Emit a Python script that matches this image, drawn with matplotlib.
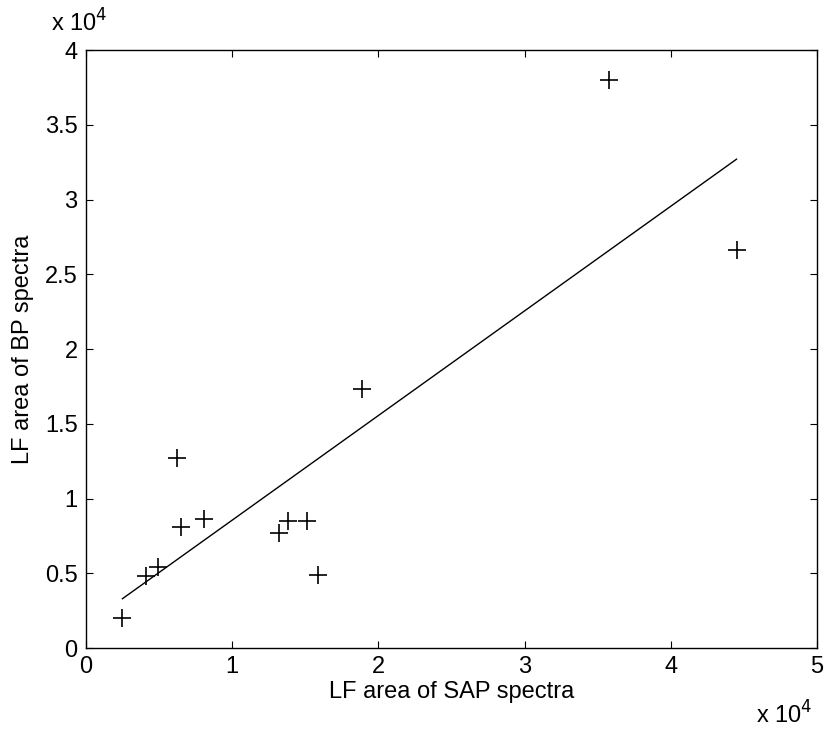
import matplotlib
matplotlib.use("Agg")
import matplotlib.pyplot as plt
import numpy as np

# LF area (x 10^4)
sap_lf = [0.25, 0.41, 0.49, 0.62, 0.65, 0.81, 1.32, 1.38, 1.51, 1.59, 1.89, 3.58, 4.45]
bp_lf = [0.20, 0.48, 0.54, 1.27, 0.81, 0.86, 0.77, 0.85, 0.85, 0.49, 1.73, 3.80, 2.66]

# regression line end points
fit_x = [0.25, 4.45]
fit_y = [0.33, 3.27]

x_ticks = [0, 1, 2, 3, 4, 5]
y_ticks = [0, 0.5, 1, 1.5, 2, 2.5, 3, 3.5, 4]
y_tick_labels = ["0", "0.5", "1", "1.5", "2", "2.5", "3", "3.5", "4"]

plt.rcParams['font.family'] = ['Liberation Sans Narrow', 'Liberation Sans', 'DejaVu Sans']

fig = plt.figure(figsize=(8.26, 7.31), dpi=100)
ax = fig.add_axes([0.104, 0.1135, 0.885, 0.818])

ax.plot(sap_lf, bp_lf, linestyle='none', marker='+', color='black', markersize=13, markeredgewidth=1.2)
ax.plot(fit_x, fit_y, color='black', linewidth=1.0)

ax.set_xlim(0, 5)
ax.set_ylim(0, 4)
ax.set_xticks(x_ticks)
ax.set_yticks(y_ticks)
ax.set_yticklabels(y_tick_labels)
ax.tick_params(direction='in', top=True, right=True, length=5, labelsize=17, colors='black', pad=6)
for s in ax.spines.values():
    s.set_linewidth(1.0)

ax.set_xlabel("LF area of SAP spectra", fontsize=17, labelpad=2)
ax.set_ylabel("LF area of BP spectra", fontsize=17, labelpad=8)

# exponent labels like MATLAB
fig.text(0.062, 0.968, r"x 10$^4$", fontsize=17, ha='left', va='center')
fig.text(0.915, 0.022, r"x 10$^4$", fontsize=17, ha='left', va='center')

fig.savefig("out.png", dpi=100)
